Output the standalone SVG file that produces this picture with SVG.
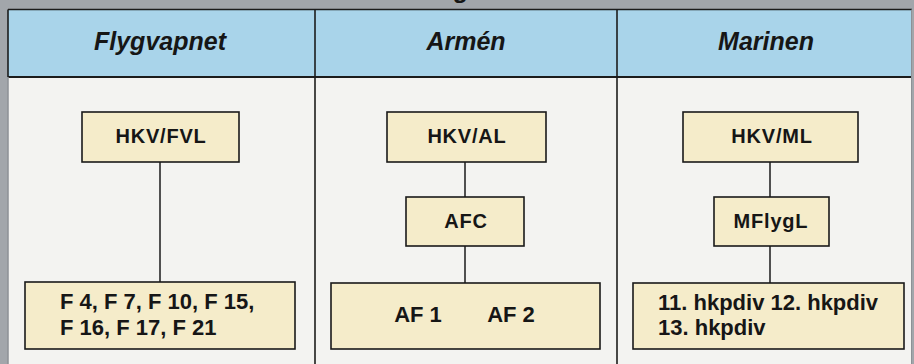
<svg xmlns="http://www.w3.org/2000/svg" width="914" height="364" viewBox="0 0 914 364">
<style>
.bg{fill:#a2a6ab}
.hdr{fill:#a9d4ea}
.body{fill:#f3f3f1}
.frame{fill:none;stroke:#1c1c1c;stroke-width:2}
.div{stroke:#1c1c1c;stroke-width:1.6}
.box{fill:#f5ecca;stroke:#1a1a1a;stroke-width:1.6}
.conn{stroke:#1a1a1a;stroke-width:1.5;fill:none}
.h{font-family:"Liberation Sans",Arial,sans-serif;font-weight:bold;font-style:italic;font-size:25px;fill:#161616;text-anchor:middle}
.t{font-family:"Liberation Sans",Arial,sans-serif;font-weight:bold;font-size:20px;letter-spacing:0.8px;fill:#161616;text-anchor:middle}
.b{font-family:"Liberation Sans",Arial,sans-serif;font-weight:bold;font-size:22px;fill:#161616}
</style>
<rect class="bg" x="0" y="0" width="914" height="364"/>
<text class="h" x="462" y="-2" fill="#333">g</text>
<rect class="hdr" x="8" y="9.5" width="904" height="67.5"/>
<rect class="body" x="8" y="77" width="904" height="287"/>
<g id="table">
<line class="div" x1="8" y1="9.5" x2="912" y2="9.5"/>
<line class="div" x1="8" y1="77" x2="912" y2="77" style="stroke-width:2"/>
<line class="div" x1="8" y1="9.5" x2="8" y2="77"/>
<line x1="8" y1="77" x2="8" y2="364" stroke="#8d9196" stroke-width="1.5"/>
<line class="div" x1="315" y1="9.5" x2="315" y2="364"/>
<line class="div" x1="617" y1="9.5" x2="617" y2="364"/>
<line x1="911.5" y1="9.5" x2="911.5" y2="364" stroke="#8d9196" stroke-width="1"/>
</g>
<g id="headers">
<text class="h" x="160" y="50">Flygvapnet</text>
<text class="h" x="466" y="50">Armén</text>
<text class="h" x="766" y="50">Marinen</text>
</g>
<g id="connectors">
<line class="conn" x1="160" y1="162" x2="160" y2="282"/>
<line class="conn" x1="465" y1="162" x2="465" y2="197"/>
<line class="conn" x1="465" y1="246" x2="465" y2="283"/>
<line class="conn" x1="770" y1="162" x2="770" y2="197"/>
<line class="conn" x1="770" y1="246" x2="770" y2="283"/>
</g>
<g id="hkv-fvl">
<rect class="box" x="82" y="112" width="157" height="50"/>
<text class="t" x="161" y="143">HKV/FVL</text>
</g>
<g id="f-units">
<rect class="box" x="25" y="282" width="270" height="67"/>
<text class="b" x="60" y="309">F 4, F 7, F 10, F 15,</text>
<text class="b" x="60" y="335">F 16, F 17, F 21</text>
</g>
<g id="hkv-al">
<rect class="box" x="387" y="112" width="159" height="50"/>
<text class="t" x="467" y="143">HKV/AL</text>
</g>
<g id="afc">
<rect class="box" x="406" y="197" width="118" height="49"/>
<text class="t" x="466" y="228">AFC</text>
</g>
<g id="af-units">
<rect class="box" x="331" y="283" width="269" height="66"/>
<text class="b" x="418" y="322" text-anchor="middle">AF 1</text>
<text class="b" x="511" y="322" text-anchor="middle">AF 2</text>
</g>
<g id="hkv-ml">
<rect class="box" x="683" y="112" width="175" height="50"/>
<text class="t" x="772" y="143">HKV/ML</text>
</g>
<g id="mflygl">
<rect class="box" x="714" y="197" width="115" height="49"/>
<text class="t" x="771" y="228">MFlygL</text>
</g>
<g id="hkpdiv">
<rect class="box" x="633" y="283" width="271" height="66"/>
<text class="b" x="658" y="310">11. hkpdiv 12. hkpdiv</text>
<text class="b" x="658" y="335">13. hkpdiv</text>
</g>
</svg>
